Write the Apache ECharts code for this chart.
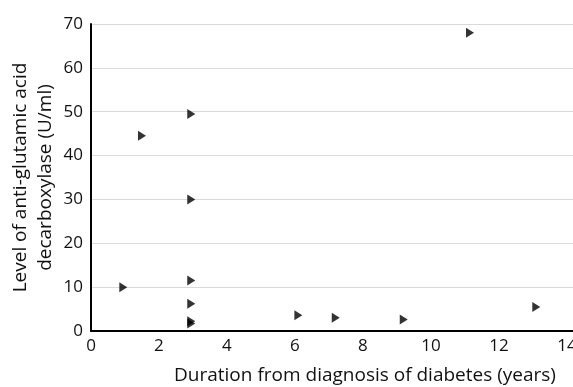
<!DOCTYPE html>
<html><head><meta charset="utf-8">
<script src="https://cdn.jsdelivr.net/npm/echarts@6/dist/echarts.min.js"></script>
<style>html,body{margin:0;padding:0;background:#fff}#c{width:573px;height:387px}</style>
</head><body><div id="c"></div>
<script>
var durationYears = [0.95, 1.5, 2.95, 2.95, 2.95, 2.95, 2.95, 2.95, 6.1, 7.2, 9.2, 11.15, 13.1];
var gadLevels     = [10.0, 44.5, 49.5, 30.0, 11.5, 6.2, 2.2, 1.7, 3.6, 3.0, 2.6, 68.0, 5.5];
var xTicks = [0, 2, 4, 6, 8, 10, 12, 14];
var yTicks = [0, 10, 20, 30, 40, 50, 60, 70];

var points = durationYears.map(function (x, i) { return [x, gadLevels[i]]; });
var font = '"Open Sans", Lato, sans-serif';
var chart = echarts.init(document.getElementById('c'));
chart.setOption({
  animation: false,
  grid: { left: 91, top: 24, right: 0, bottom: 56, containLabel: false, outerBoundsMode: 'none' },
  xAxis: {
    type: 'value', min: xTicks[0], max: 14.18, interval: 2,
    name: 'Duration from diagnosis of diabetes (years)',
    nameLocation: 'middle', nameGap: 35, nameMoveOverlap: false,
    nameTextStyle: { fontFamily: font, fontSize: 19, color: '#111', padding: [0, 0, 0, 66] },
    axisLine: { lineStyle: { color: '#000', width: 2 } },
    axisTick: { show: false },
    splitLine: { show: false },
    axisLabel: { fontFamily: font, fontSize: 17, color: '#111', margin: 7,
      formatter: function (v) { return xTicks.indexOf(v) >= 0 ? String(v) : ''; } }
  },
  yAxis: {
    type: 'value', min: yTicks[0], max: yTicks[yTicks.length - 1], interval: 10,
    name: 'Level of anti-glutamic acid\ndecarboxylase (U/ml)',
    nameLocation: 'middle', nameGap: 33, nameMoveOverlap: false,
    nameTextStyle: { fontFamily: font, fontSize: 19, color: '#111', lineHeight: 25 },
    axisLine: { show: true, lineStyle: { color: '#000', width: 2 } },
    axisTick: { show: false },
    splitLine: { lineStyle: { color: '#d9d9d9', width: 1 } },
    axisLabel: { fontFamily: font, fontSize: 17, color: '#111', margin: 8 }
  },
  series: [{
    type: 'scatter',
    data: points,
    symbol: 'triangle',
    symbolRotate: -90,
    symbolSize: [10, 8],
    itemStyle: { color: '#000' }
  }]
});
</script></body></html>
